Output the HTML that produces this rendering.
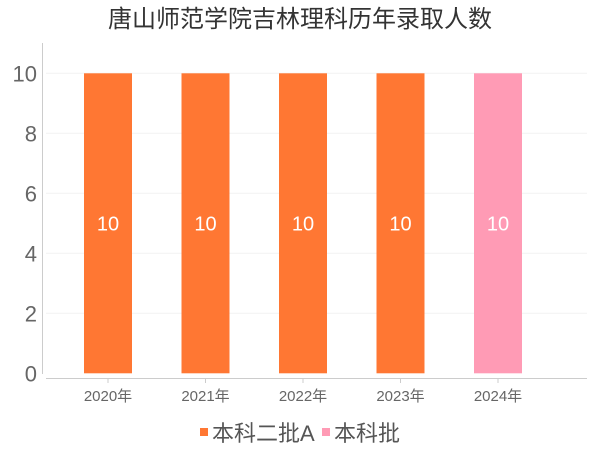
<!DOCTYPE html>
<html><head><meta charset="utf-8"><style>
body{margin:0;background:#fff;}
svg{display:block;font-family:"Liberation Sans","Noto Sans CJK SC",sans-serif;}
</style></head><body>
<svg id="chart" width="600" height="450">
<text x="300" y="27" text-anchor="middle" font-size="24" fill="#333">唐山师范学院吉林理科历年录取人数</text>
<g id="grid"></g>
<line x1="42.5" y1="43" x2="42.5" y2="374" stroke="#ccc"/>
<line x1="46" y1="378.5" x2="587" y2="378.5" stroke="#ccc"/>
<g id="bars"></g>
<g>
<rect x="200" y="428" width="8" height="8" fill="#ff7733"/>
<text x="212" y="441" font-size="22" fill="#555">本科二批A</text>
<rect x="322" y="428" width="8" height="8" fill="#ff9bb5"/>
<text x="334" y="441" font-size="22" fill="#555">本科批</text>
</g>
</svg>
<script>
const categories=["2020年","2021年","2022年","2023年","2024年"];
const values=[10,10,10,10,10];
const batches=["本科二批A","本科二批A","本科二批A","本科二批A","本科批"];
const yTicks=[0,2,4,6,8,10];
const colors={"本科二批A":"#ff7733","本科批":"#ff9bb5"};
const NS="http://www.w3.org/2000/svg";
const y=v=>373.3-v*30;
const x=i=>108+i*97.5;
const grid=document.getElementById('grid'),bars=document.getElementById('bars');
function mk(tag,a,p){const e=document.createElementNS(NS,tag);for(const k in a)e.setAttribute(k,a[k]);p.appendChild(e);return e;}
yTicks.forEach(t=>{
  if(t>0){const l=mk('line',{x1:46,x2:587,y1:y(t),y2:y(t),stroke:'#f2f2f2'},grid);
  
  }
  const tx=mk('text',{x:37,y:y(t)+8,'text-anchor':'end','font-size':22,fill:'#666'},grid);
  tx.textContent=t;
  
  
});
categories.forEach((c,i)=>{
  const r=mk('rect',{x:x(i)-24,y:y(values[i]),width:48,height:y(0)-y(values[i]),fill:colors[batches[i]]},bars);
  
  
  const v=mk('text',{x:x(i),y:y(values[i]/2)+7,'text-anchor':'middle','font-size':20,fill:'#fff'},bars);
  v.textContent=values[i];
  
  
  const tk=mk('line',{x1:x(i),x2:x(i),y1:378,y2:383,stroke:'#ccc'},bars);
  
  
  const l=mk('text',{x:x(i),y:401,'text-anchor':'middle','font-size':15,fill:'#666'},bars);
  l.textContent=c;
  
  
});
</script>
</body></html>
